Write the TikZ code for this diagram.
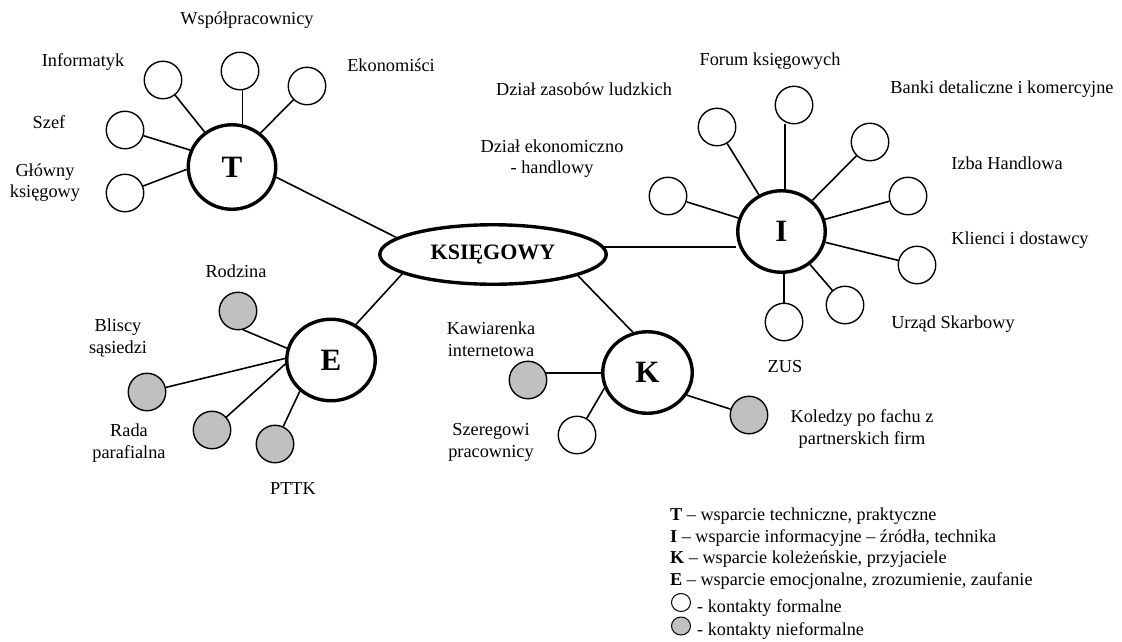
\documentclass[tikz,border=0pt]{standalone}
\usepackage{fontspec}
\setmainfont{Liberation Serif}
\usetikzlibrary{shapes.geometric}
\definecolor{contactgray}{RGB}{192,192,192}
\begin{document}
\begin{tikzpicture}[x=1pt,y=-1pt,
  hub/.style={ellipse,draw,line width=3.4pt,inner sep=0pt,fill=white,
    font=\bfseries\fontsize{31}{31}\selectfont},
  contact/.style={circle,draw,line width=1.4pt,inner sep=0pt,minimum size=37.5pt},
  formal/.style={contact,fill=white},
  informal/.style={contact,fill=contactgray},
  link/.style={line width=1.6pt},
  lbl/.style={inner sep=0pt,align=center,font=\fontsize{18.3}{21.5}\selectfont},
  keytext/.style={anchor=base west,inner sep=0pt,font=\fontsize{18.2}{21}\selectfont},
  keymark/.style={ellipse,draw,line width=1pt,inner sep=0pt,minimum width=19pt,minimum height=18pt}]
\useasboundingbox (0,0) rectangle (1122,641);

% central node and the four support groups
\node[ellipse,draw,line width=3.4pt,inner sep=0pt,minimum width=226.5pt,minimum height=59.5pt,
  font=\bfseries\fontsize{22}{22}\selectfont] (ks) at (493,254.5) {KSIĘGOWY};
\node[hub,minimum width=87.5pt,minimum height=84.5pt] (T) at (232,167) {T};
\node[hub,minimum width=87.5pt,minimum height=81.5pt] (I) at (781.5,231.5) {I};
\node[hub,minimum width=89.5pt,minimum height=81.5pt] (K) at (647.5,372.5) {K};
\node[hub,minimum width=88.5pt,minimum height=81.5pt] (E) at (331,360) {E};

% T: technical support
\node[formal] (inf) at (163,80) {};
\node[formal] (wsp) at (240,71) {};
\node[formal] (eko) at (307,86) {};
\node[formal] (szef) at (125,130) {};
\node[formal] (glow) at (125,193) {};

% I: information support
\node[formal] (forum) at (794,105) {};
\node[formal] (dzz) at (717,127) {};
\node[formal] (dze) at (668,196) {};
\node[formal] (banki) at (870,142) {};
\node[formal] (izba) at (908,196) {};
\node[formal] (kli) at (917,265) {};
\node[formal] (urz) at (845,305) {};
\node[formal] (zus) at (784,322) {};

% K: collegial support
\node[informal] (kaw) at (528,380) {};
\node[formal] (sz) at (577,435) {};
\node[informal] (kol) at (749,415) {};

% E: emotional support
\node[informal] (rod) at (238,311) {};
\node[informal] (bli) at (147,392) {};
\node[informal] (rada) at (212,430) {};
\node[informal] (pttk) at (275,444) {};

% connectors to the central node
\draw[link] (T.-13) -- (ks.170);
\draw[link] (ks.4) -- (ks.4 -| I.west);
\draw[link] (E.55) -- (ks.192);
\draw[link] (K.110) -- (ks.-14);

% connectors of T
\draw[link] (inf) -- (T.128);
\draw[link] (T.76) -- (T.76 |- wsp.south);
\draw[link] (eko) -- (T.50);
\draw[link] (szef) -- (T.158);
\draw[link] (glow) -- (T.183);

% connectors of I
\draw[link] (I.85) -- (I.85 |- forum.south);
\draw[link] (dzz) -- (I);
\draw[link] (dze) -- (I);
\draw[link] (banki) -- (I);
\draw[link] (izba) -- (I);
\draw[link] (kli) -- (I);
\draw[link] (urz) -- (I);
\draw[link] (zus) -- (zus |- I.south);

% connectors of K
\draw[link] (kaw.22) -- (kaw.22 -| K.west);
\draw[link] (sz) -- (K.200);
\draw[link] (K.-30) -- (kol);

% connectors of E
\draw[link] (rod.-75) -- (E.165);
\draw[link] (bli) -- (E.178);
\draw[link] (rada) -- (E.185);
\draw[link] (pttk) -- (E.225);

% labels
\node[lbl] (l-wsp) at (247,20) {Współpracownicy};
\node[lbl] (l-inf) at (83,62) {Informatyk};
\node[lbl] (l-eko) at (391,65) {Ekonomiści};
\node[lbl] (l-szef) at (49,122) {Szef};
\node[lbl] (l-glow) at (45,182.5) {Główny\\księgowy};
\node[lbl] (l-forum) at (770,61) {Forum księgowych};
\node[lbl] (l-dzz) at (584,89) {Dział zasobów ludzkich};
\node[lbl] (l-banki) at (1002,89) {Banki detaliczne i komercyjne};
\node[lbl] (l-dze) at (552,158.5) {Dział ekonomiczno\\- handlowy};
\node[lbl] (l-izba) at (1007,163) {Izba Handlowa};
\node[lbl] (l-kli) at (1020,240) {Klienci i dostawcy};
\node[lbl] (l-urz) at (953,324) {Urząd Skarbowy};
\node[lbl] (l-zus) at (785,367) {ZUS};
\node[lbl] (l-kaw) at (491,339) {Kawiarenka\\internetowa};
\node[lbl] (l-sz) at (491,442.5) {Szeregowi\\pracownicy};
\node[lbl] (l-kol) at (862,429) {Koledzy po fachu z\\partnerskich firm};
\node[lbl] (l-rod) at (236,271) {Rodzina};
\node[lbl] (l-bli) at (118,338) {Bliscy\\sąsiedzi};
\node[lbl] (l-rada) at (129,443) {Rada\\parafialna};
\node[lbl] (l-pttk) at (293,488) {PTTK};

% key
\node[keytext] (k-t) at (670,520) {\textbf{T} – wsparcie techniczne, praktyczne};
\node[keytext] (k-i) at (670,542) {\textbf{I} – wsparcie informacyjne – źródła, technika};
\node[keytext] (k-k) at (670,563) {\textbf{K} – wsparcie koleżeńskie, przyjaciele};
\node[keytext] (k-e) at (670,585) {\textbf{E} – wsparcie emocjonalne, zrozumienie, zaufanie};
\node[keymark,fill=white] (k-fm) at (681,602.5) {};
\node[keymark,fill=contactgray] (k-im) at (681,626) {};
\node[keytext] (k-f) at (697,612) {- kontakty formalne};
\node[keytext] (k-n) at (697,635) {- kontakty nieformalne};
\end{tikzpicture}
\end{document}
